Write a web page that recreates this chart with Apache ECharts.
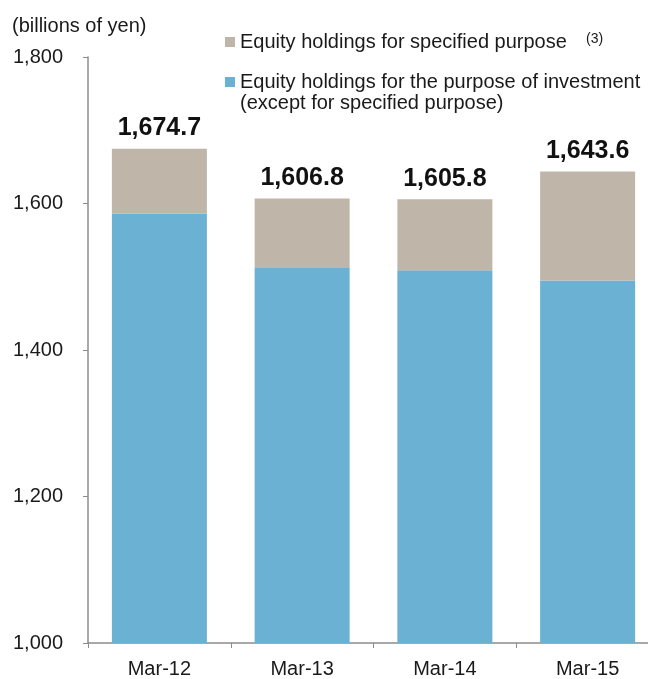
<!DOCTYPE html>
<html>
<head>
<meta charset="utf-8">
<script src="https://cdn.jsdelivr.net/npm/echarts@6/dist/echarts.min.js"></script>
<style>
html,body{margin:0;padding:0;background:#fff;}
#chart{width:648px;height:679px;}
</style>
</head>
<body>
<div id="chart"></div>
<script>
var categories = ['Mar-12', 'Mar-13', 'Mar-14', 'Mar-15'];
var investment = [1586.0, 1513.0, 1509.0, 1495.0];
var specified = [88.7, 93.8, 96.8, 148.6];
var totals = [1674.7, 1606.8, 1605.8, 1643.6];
var yTicks = { min: 1000, max: 1800, interval: 200 };
var seriesNames = ['Equity holdings for specified purpose', 'Equity holdings for the purpose of investment'];
var legendExtraLine = '(except for specified purpose)';
var unitLabel = '(billions of yen)';
var footnote = '(3)';

function fmt(v, d) {
  var s = v.toFixed(d);
  var parts = s.split('.');
  parts[0] = parts[0].replace(/\B(?=(\d{3})+(?!\d))/g, ',');
  return parts.join('.');
}

var FONT = 'Liberation Sans, Arial, sans-serif';
var chart = echarts.init(document.getElementById('chart'));
chart.setOption({
  animation: false,
  backgroundColor: '#ffffff',
  textStyle: { fontFamily: FONT },
  grid: { left: 88, width: 571, top: 57, height: 586, containLabel: false, outerBoundsMode: 'none' },
  legend: {
    orient: 'vertical',
    left: 225,
    top: 32,
    padding: 0,
    itemGap: 20,
    itemWidth: 10,
    itemHeight: 10,
    icon: 'rect',
    data: [seriesNames[0], seriesNames[1]],
    textStyle: { fontFamily: FONT, fontSize: 20, color: '#1a1a1a', lineHeight: 20 }
  },
  graphic: [
    { type: 'text', left: 12, top: 16, style: { text: unitLabel, font: '20px ' + FONT, fill: '#1a1a1a' } },
    { type: 'text', left: 586, top: 32, style: { text: footnote, font: '14px ' + FONT, fill: '#1a1a1a' } },
    { type: 'text', left: 240, top: 93, style: { text: legendExtraLine, font: '20px ' + FONT, fill: '#1a1a1a' } }
  ],
  xAxis: {
    type: 'category',
    data: categories,
    axisLine: { lineStyle: { color: '#8c8c8c', width: 1.5 } },
    axisTick: { show: true, length: 5, lineStyle: { color: '#8c8c8c' } },
    axisLabel: { fontSize: 20, color: '#1a1a1a', margin: 16, fontFamily: FONT }
  },
  yAxis: {
    type: 'value',
    min: yTicks.min,
    max: yTicks.max,
    interval: yTicks.interval,
    axisLine: { show: true, lineStyle: { color: '#8c8c8c', width: 1.5 } },
    axisTick: { show: true, length: 5, lineStyle: { color: '#8c8c8c' } },
    splitLine: { show: false },
    axisLabel: { fontSize: 20, color: '#1a1a1a', margin: 25, fontFamily: FONT, formatter: function (v) { return fmt(v, 0); } }
  },
  series: [
    {
      name: seriesNames[1], type: 'bar', stack: 'total', barWidth: 95,
      itemStyle: { color: '#6AB1D3' },
      data: investment
    },
    {
      name: seriesNames[0], type: 'bar', stack: 'total', barWidth: 95,
      itemStyle: { color: '#BFB5A8' },
      label: {
        show: true, position: 'top', distance: 8,
        fontSize: 25, fontWeight: 'bold', color: '#111', fontFamily: FONT,
        formatter: function (p) { return fmt(totals[p.dataIndex], 1); }
      },
      data: specified
    }
  ]
});
</script>
</body>
</html>
